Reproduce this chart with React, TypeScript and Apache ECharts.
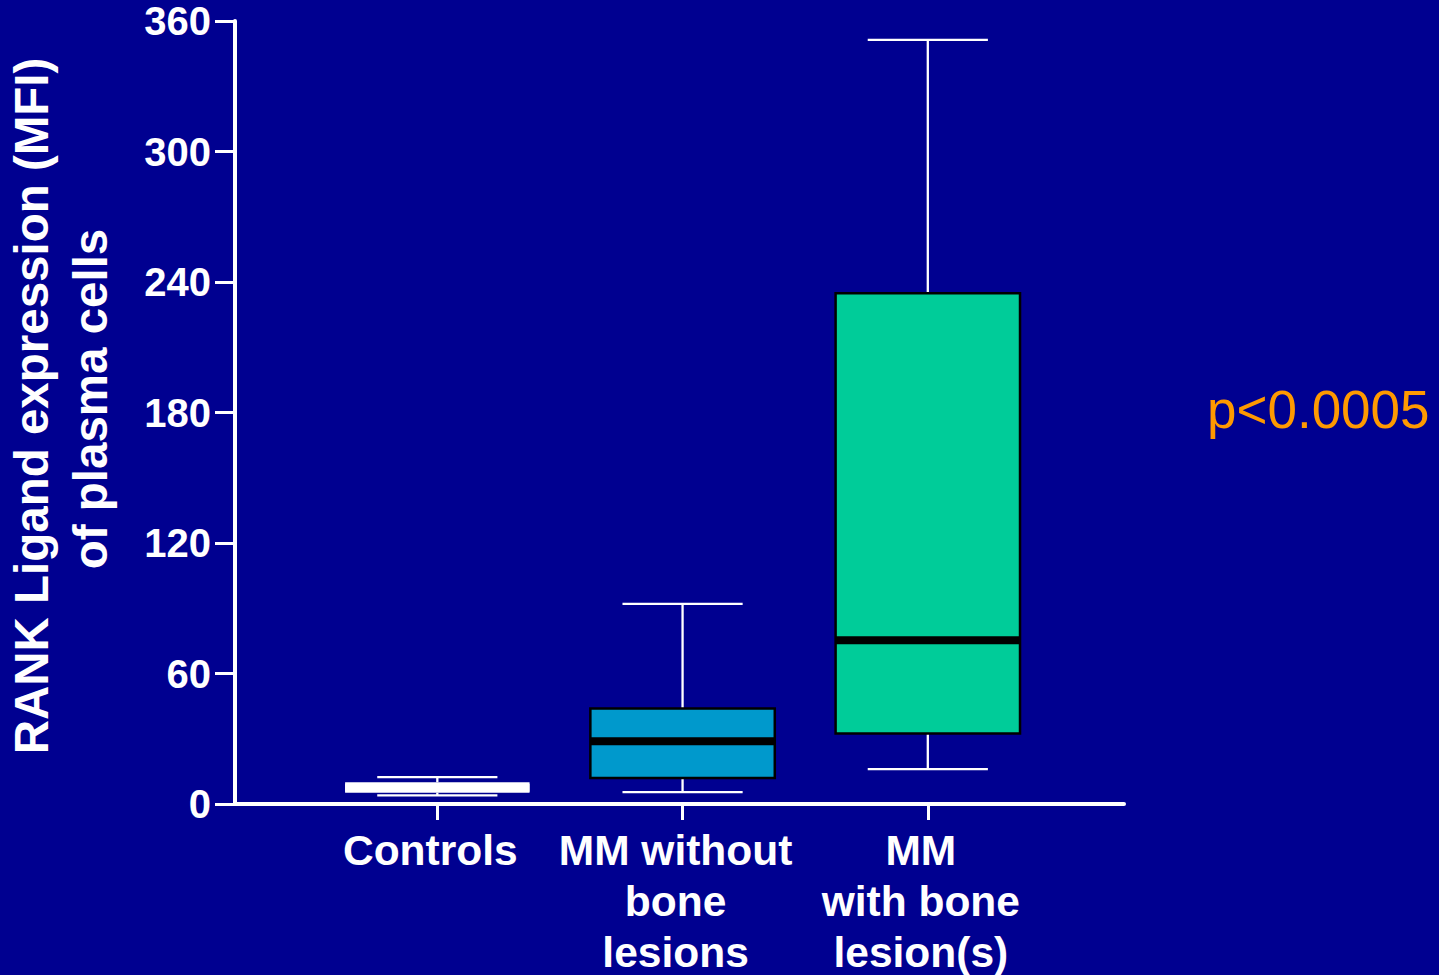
import { useEffect, useRef } from "react";
import * as echarts from "echarts";

// Groups along the x axis (index 0, 1, 2)
const categories = ["Controls", "MM without\nbone\nlesions", "MM\nwith bone\nlesion(s)"];
const categoryIndex = [0, 1, 2];

// Box-and-whisker statistics, RANKL MFI
const lowWhisker = [4, 5.5, 16];
const lowerQuartile = [5.2, 12, 32.4];
const median = [7.5, 28.8, 75.3];
const upperQuartile = [10, 43.9, 234.8];
const highWhisker = [12.4, 92, 351.3];

// Value axis ticks
const yMin = 0;
const yMax = 360;
const yStep = 60;

const yTitleLines = ["RANK Ligand expression (MFI)", "of plasma cells"];
const pValueLabel = "p<0.0005";

// Per-group styling
const boxFills = ["#FFFFFF", "#0099CC", "#00CC99"];
const boxStrokes = ["#FFFFFF", "#000000", "#000000"];
const medianColors = ["#FFFFFF", "#000000", "#000000"];

const FONT = '"Liberation Sans", Arial, Helvetica, sans-serif';
const BG = "#000090";

export default function App() {
  const ref = useRef<HTMLDivElement>(null);

  useEffect(() => {
    if (!ref.current) return;
    const chart = echarts.init(ref.current, undefined, { renderer: "svg" });

    const boxData = categoryIndex.map((i) => [
      i,
      lowWhisker[i],
      lowerQuartile[i],
      median[i],
      upperQuartile[i],
      highWhisker[i],
    ]);

    const option: any = {
      animation: false,
      backgroundColor: BG,
      textStyle: { fontFamily: FONT },
      grid: {
        left: 235,
        right: 315,
        top: 21,
        bottom: 171,
        containLabel: false,
        outerBoundsMode: "none",
      },
      xAxis: {
        type: "value",
        min: -0.825,
        max: 2.8,
        splitLine: { show: false },
        axisLine: { show: true, onZero: false, lineStyle: { color: "#FFFFFF", width: 4 } },
        axisTick: {
          show: true,
          customValues: categoryIndex,
          length: 16,
          lineStyle: { color: "#FFFFFF", width: 3 },
        },
        axisLabel: {
          customValues: categoryIndex,
          formatter: (v: number) => categories[Math.round(v)] ?? "",
          color: "#FFFFFF",
          fontFamily: FONT,
          fontWeight: "bold",
          fontSize: 42.5,
          lineHeight: 51,
          margin: 21,
          padding: [0, 14, 0, 0],
          align: "center",
        },
      },
      yAxis: {
        type: "value",
        min: yMin,
        max: yMax,
        interval: yStep,
        splitLine: { show: false },
        axisLine: { show: true, onZero: false, lineStyle: { color: "#FFFFFF", width: 4 } },
        axisTick: { show: true, length: 20, lineStyle: { color: "#FFFFFF", width: 3 } },
        axisLabel: {
          color: "#FFFFFF",
          fontFamily: FONT,
          fontWeight: "bold",
          fontSize: 40,
          margin: 24,
        },
      },
      series: [
        {
          type: "custom",
          data: boxData,
          encode: { x: 0, y: [1, 2, 3, 4, 5] },
          renderItem: (_params: any, api: any) => {
            const i = Math.round(api.value(0));
            const [cx, yLow] = api.coord([i, api.value(1)]);
            const yQ1 = api.coord([i, api.value(2)])[1];
            const yMed = api.coord([i, api.value(3)])[1];
            const yQ3 = api.coord([i, api.value(4)])[1];
            const yHigh = api.coord([i, api.value(5)])[1];
            const boxW = api.size([0.752, 0])[0];
            const capW = api.size([0.49, 0])[0];
            const whisker = { stroke: "#FFFFFF", lineWidth: 2.3 };
            return {
              type: "group",
              children: [
                { type: "line", shape: { x1: cx, y1: yHigh, x2: cx, y2: yQ3 }, style: whisker },
                { type: "line", shape: { x1: cx, y1: yQ1, x2: cx, y2: yLow }, style: whisker },
                {
                  type: "line",
                  shape: { x1: cx - capW / 2, y1: yHigh, x2: cx + capW / 2, y2: yHigh },
                  style: whisker,
                },
                {
                  type: "line",
                  shape: { x1: cx - capW / 2, y1: yLow, x2: cx + capW / 2, y2: yLow },
                  style: whisker,
                },
                {
                  type: "rect",
                  shape: { x: cx - boxW / 2, y: yQ3, width: boxW, height: yQ1 - yQ3 },
                  style: {
                    fill: boxFills[i],
                    stroke: boxStrokes[i],
                    lineWidth: i === 0 ? 0 : 2.5,
                  },
                },
                {
                  type: "line",
                  shape: { x1: cx - boxW / 2, y1: yMed, x2: cx + boxW / 2, y2: yMed },
                  style: { stroke: medianColors[i], lineWidth: 8 },
                },
              ],
            };
          },
        },
      ],
      graphic: [
        {
          type: "text",
          x: 31.7,
          y: 406,
          rotation: Math.PI / 2,
          style: {
            text: yTitleLines[0],
            fill: "#FFFFFF",
            font: `bold 47.5px ${FONT}`,
            align: "center",
            verticalAlign: "middle",
          },
        },
        {
          type: "text",
          x: 90.7,
          y: 399,
          rotation: Math.PI / 2,
          style: {
            text: yTitleLines[1],
            fill: "#FFFFFF",
            font: `bold 47.5px ${FONT}`,
            align: "center",
            verticalAlign: "middle",
          },
        },
        {
          type: "text",
          x: 1207,
          y: 409,
          style: {
            text: pValueLabel,
            fill: "#FF9900",
            font: `53px ${FONT}`,
            align: "left",
            verticalAlign: "middle",
          },
        },
      ],
    };

    chart.setOption(option);
    return () => chart.dispose();
  }, []);

  return (
    <div
      ref={ref}
      style={{ position: "fixed", left: 0, top: 0, width: 1439, height: 975, background: BG }}
    />
  );
}
